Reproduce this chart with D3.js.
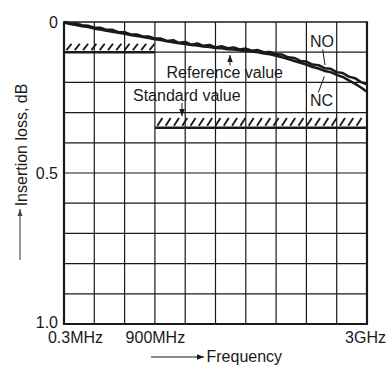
<!DOCTYPE html>
<html>
<head>
<meta charset="utf-8">
<script src="https://cdn.jsdelivr.net/npm/d3@7/dist/d3.min.js"></script>
<style>
  html, body { margin: 0; padding: 0; background: #fff; }
  svg { display: block; }
  text { font-family: "Liberation Sans", Arial, Helvetica, sans-serif; fill: #1a1a1a; }
</style>
</head>
<body>
<svg id="chart" width="389" height="365"></svg>
<script>
// ---------------- data ----------------
const freqMHz = [0.3, 60, 120, 180, 240, 300, 360, 420, 480, 540, 600, 660, 720, 780, 840, 900,
  960, 1020, 1080, 1140, 1200, 1260, 1320, 1380, 1440, 1500, 1560, 1620, 1680, 1740, 1800,
  1860, 1920, 1980, 2040, 2100, 2160, 2220, 2280, 2340, 2400, 2460, 2520, 2580, 2640, 2700,
  2760, 2820, 2880, 2940, 3000];
const lossNO = [0.000, 0.004, 0.005, 0.011, 0.012, 0.019, 0.019, 0.026, 0.026, 0.034, 0.034,
  0.041, 0.041, 0.048, 0.048, 0.055, 0.055, 0.063, 0.060, 0.069, 0.066, 0.075, 0.071, 0.079,
  0.076, 0.084, 0.080, 0.087, 0.084, 0.091, 0.088, 0.095, 0.093, 0.100, 0.099, 0.107, 0.108,
  0.117, 0.119, 0.129, 0.131, 0.141, 0.143, 0.153, 0.155, 0.166, 0.169, 0.181, 0.186, 0.199, 0.206];
const lossNC = [0.002, 0.007, 0.010, 0.014, 0.017, 0.022, 0.025, 0.029, 0.032, 0.036, 0.039,
  0.043, 0.046, 0.050, 0.053, 0.057, 0.060, 0.064, 0.067, 0.070, 0.073, 0.076, 0.078, 0.081,
  0.083, 0.086, 0.087, 0.090, 0.091, 0.094, 0.095, 0.098, 0.100, 0.104, 0.107, 0.112, 0.117,
  0.123, 0.129, 0.135, 0.141, 0.149, 0.154, 0.162, 0.166, 0.175, 0.182, 0.193, 0.204, 0.217, 0.231];

// standard value (spec limit) bands
const stdFrom = [0.3, 900];
const stdTo = [900, 3000];
const stdValue = [0.1, 0.35];
const stdHatchTop = [0.072, 0.318];

const xTickValues = [0.3, 900, 3000];
const xTickLabels = ["0.3MHz", "900MHz", "3GHz"];
const yTickValues = [0, 0.5, 1.0];
const yTickLabels = ["0", "0.5", "1.0"];

// ---------------- layout ----------------
const svg = d3.select("#chart");
const L = 64, R = 367, T = 22, B = 324;
const x = d3.scaleLinear().domain([0.3, 3000]).range([L, R]);
const y = d3.scaleLinear().domain([0, 1]).range([T, B]);
const ink = "#1a1a1a";

// grid (10 x 10)
const xGrid = d3.range(1, 10).map(i => 0.3 + i * (3000 - 0.3) / 10);
const yGrid = d3.range(1, 10).map(i => i / 10);
const grid = svg.append("g");
grid.selectAll("line.vx").data(xGrid).join("line")
  .attr("x1", d => x(d)).attr("x2", d => x(d)).attr("y1", T).attr("y2", B)
  .attr("stroke", ink).attr("stroke-width", 1.2);
grid.selectAll("line.hy").data(yGrid).join("line")
  .attr("x1", L).attr("x2", R).attr("y1", d => y(d)).attr("y2", d => y(d))
  .attr("stroke", ink).attr("stroke-width", 1.2);

// frame
svg.append("line").attr("x1", L).attr("x2", R).attr("y1", T).attr("y2", T)
  .attr("stroke", ink).attr("stroke-width", 1.4);
svg.append("line").attr("x1", L).attr("x2", R).attr("y1", B).attr("y2", B)
  .attr("stroke", ink).attr("stroke-width", 2.2);
svg.append("line").attr("x1", L).attr("x2", L).attr("y1", T - 0.7).attr("y2", B + 1.1)
  .attr("stroke", ink).attr("stroke-width", 2.2);
svg.append("line").attr("x1", R).attr("x2", R).attr("y1", T - 0.7).attr("y2", B + 1.1)
  .attr("stroke", ink).attr("stroke-width", 2.2);

// standard value bands (hatched)
const bands = svg.append("g");
stdValue.forEach((v, i) => {
  const xa = x(stdFrom[i]), xb = x(stdTo[i]);
  const yLine = y(v), yTop = y(stdHatchTop[i]);
  const starts = d3.range(xa + 2.5, xb - 5, 8.3);
  bands.selectAll(null).data(starts).join("line")
    .attr("x1", d => d).attr("y1", yLine - 2)
    .attr("x2", d => d + 5).attr("y2", yTop)
    .attr("stroke", ink).attr("stroke-width", 1.9);
  bands.append("line").attr("x1", xa).attr("x2", xb).attr("y1", yLine).attr("y2", yLine)
    .attr("stroke", ink).attr("stroke-width", 2.6);
});

// curves
const line = d3.line().x((d, i) => x(freqMHz[i])).y(d => y(d));
svg.append("path").datum(lossNO).attr("d", line)
  .attr("fill", "none").attr("stroke", ink).attr("stroke-width", 2.5).attr("stroke-linejoin", "round");
svg.append("path").datum(lossNC).attr("d", line)
  .attr("fill", "none").attr("stroke", ink).attr("stroke-width", 2.5).attr("stroke-linejoin", "round");

// axes (labels only)
const yAxis = svg.append("g").attr("transform", `translate(${L},0)`)
  .call(d3.axisLeft(y).tickValues(yTickValues).tickSize(0).tickPadding(6)
    .tickFormat((d, i) => yTickLabels[i]));
yAxis.select(".domain").remove();
yAxis.selectAll("text").attr("font-size", 16).attr("fill", ink)
  .attr("font-family", "Liberation Sans, Arial, sans-serif")
  .attr("dy", (d, i) => i === 2 ? "0.2em" : "0.32em");

const xAxis = svg.append("g").attr("transform", `translate(0,${B})`)
  .call(d3.axisBottom(x).tickValues(xTickValues).tickSize(0).tickPadding(7.5)
    .tickFormat((d, i) => xTickLabels[i]));
xAxis.select(".domain").remove();
xAxis.selectAll("text").attr("font-size", 16).attr("fill", ink)
  .attr("font-family", "Liberation Sans, Arial, sans-serif")
  .attr("dx", (d, i) => i === 0 ? 11 : (i === 2 ? -2 : 0));

// annotations
function txt(s, px, py, anchor) {
  return svg.append("text").attr("x", px).attr("y", py).attr("font-size", 16)
    .attr("text-anchor", anchor || "start").text(s);
}
txt("Reference value", 166.5, 77.7);
txt("Standard value", 133, 100.7);
txt("NO", 310, 46.7);
txt("NC", 310, 106);

// arrow marker
const defs = svg.append("defs");
defs.append("marker").attr("id", "ah").attr("viewBox", "0 0 10 10")
  .attr("refX", 10).attr("refY", 5).attr("markerWidth", 7).attr("markerHeight", 7)
  .attr("markerUnits", "userSpaceOnUse").attr("orient", "auto")
  .append("path").attr("d", "M0,1 L10,5 L0,9 Z").attr("fill", ink);
defs.append("marker").attr("id", "ahg").attr("viewBox", "0 0 10 10")
  .attr("refX", 10).attr("refY", 5).attr("markerWidth", 7).attr("markerHeight", 7)
  .attr("markerUnits", "userSpaceOnUse").attr("orient", "auto")
  .append("path").attr("d", "M0,1.5 L10,5 L0,8.5 Z").attr("fill", "#444");

// reference value arrow (up to curve)
svg.append("line").attr("x1", 230).attr("y1", 65.5).attr("x2", 230).attr("y2", 55)
  .attr("stroke", ink).attr("stroke-width", 1).attr("marker-end", "url(#ah)");
// standard value arrow (down to band)
svg.append("line").attr("x1", 182).attr("y1", 103).attr("x2", 182).attr("y2", 116)
  .attr("stroke", ink).attr("stroke-width", 1).attr("marker-end", "url(#ah)");
// NO / NC leaders
svg.append("line").attr("x1", 322.7).attr("y1", 49.3).attr("x2", 325).attr("y2", 65)
  .attr("stroke", ink).attr("stroke-width", 1);
svg.append("line").attr("x1", 324.3).attr("y1", 76.5).attr("x2", 318.3).attr("y2", 92.5)
  .attr("stroke", ink).attr("stroke-width", 1);

// axis titles with arrows
svg.append("text").attr("transform", "translate(26.5,145) rotate(-90)")
  .attr("text-anchor", "middle").attr("font-size", 16).text("Insertion loss, dB");
svg.append("line").attr("x1", 20).attr("y1", 260).attr("x2", 20).attr("y2", 209)
  .attr("stroke", "#444").attr("stroke-width", 1.1).attr("marker-end", "url(#ahg)");
svg.append("line").attr("x1", 151).attr("y1", 357).attr("x2", 204).attr("y2", 357)
  .attr("stroke", ink).attr("stroke-width", 1.1).attr("marker-end", "url(#ah)");
txt("Frequency", 206.5, 361.5);
</script>
</body>
</html>
